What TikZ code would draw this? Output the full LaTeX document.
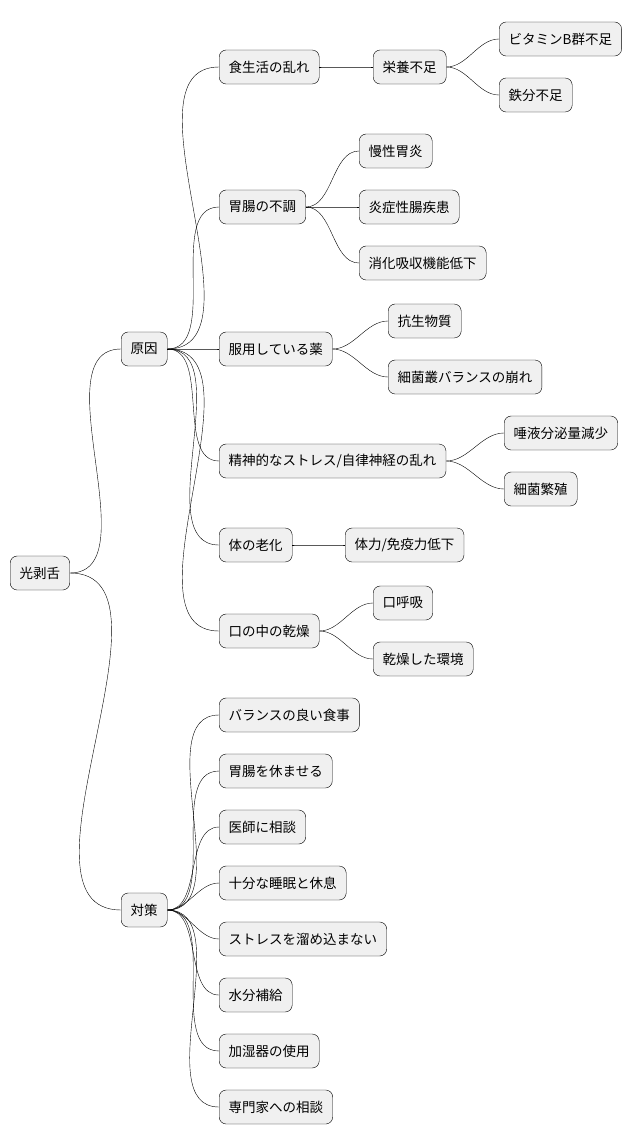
\documentclass[tikz,border=0pt]{standalone}
\usepackage{fontspec}
\newfontfamily\cjk{Noto Sans CJK JP}
\tikzset{
  topic/.style={draw=black,rounded corners=7pt,fill=black!6,minimum height=34pt,
    inner xsep=9.5pt,anchor=west,font=\cjk\fontsize{13.5}{16}\selectfont},
  branch/.style={draw=black,thin,out=0,in=180,looseness=0.9}
}
\begin{document}
\begin{tikzpicture}[x=1pt,y=-1pt]
                \useasboundingbox (0,0) rectangle (638,1146);
                \node[topic](root)at(10, 573){光剥舌};
                \node[topic](cause)at(121, 349){原因};
                \node[topic](fix)at(121, 910){対策};
                % causes
                \node[topic](diet)at(219, 67){食生活の乱れ};
                \node[topic](gut)at(219, 207){胃腸の不調};
                \node[topic](drug)at(219, 349){服用している薬};
                \node[topic](stress)at(219, 461){精神的なストレス/自律神経の乱れ};
                \node[topic](age)at(219, 545){体の老化};
                \node[topic](dry)at(219, 631){口の中の乾燥};
                \node[topic](nutri)at(373, 67){栄養不足};
                \node[topic](vitb)at(499, 39){ビタミンB群不足};
                \node[topic](iron)at(499, 95){鉄分不足};
                \node[topic](gast)at(359, 151){慢性胃炎};
                \node[topic](ibd)at(359, 207){炎症性腸疾患};
                \node[topic](absorb)at(359, 263){消化吸収機能低下};
                \node[topic](anti)at(388, 321){抗生物質};
                \node[topic](flora)at(388, 377){細菌叢バランスの崩れ};
                \node[topic](saliva)at(504, 433){唾液分泌量減少};
                \node[topic](bact)at(504, 489){細菌繁殖};
                \node[topic](immune)at(345, 545){体力/免疫力低下};
                \node[topic](mouth)at(373, 603){口呼吸};
                \node[topic](air)at(373, 659){乾燥した環境};
                % remedies
                \node[topic](meal)at(219, 715){バランスの良い食事};
                \node[topic](rest)at(219, 771){胃腸を休ませる};
                \node[topic](doctor)at(219, 827){医師に相談};
                \node[topic](sleep)at(219, 883){十分な睡眠と休息};
                \node[topic](relax)at(219, 939){ストレスを溜め込まない};
                \node[topic](water)at(219, 995){水分補給};
                \node[topic](humid)at(219, 1051){加湿器の使用};
                \node[topic](expert)at(219, 1107){専門家への相談};
                \path[branch](root.east) edge (cause.west)
                (root.east) edge (fix.west)
                (cause.east) edge (diet.west)
                (cause.east) edge (gut.west)
                (cause.east) edge (drug.west)
                (cause.east) edge (stress.west)
                (cause.east) edge (age.west)
                (cause.east) edge (dry.west)
                (diet.east) edge (nutri.west)
                (nutri.east) edge (vitb.west)
                (nutri.east) edge (iron.west)
                (gut.east) edge (gast.west)
                (gut.east) edge (ibd.west)
                (gut.east) edge (absorb.west)
                (drug.east) edge (anti.west)
                (drug.east) edge (flora.west)
                (stress.east) edge (saliva.west)
                (stress.east) edge (bact.west)
                (age.east) edge (immune.west)
                (dry.east) edge (mouth.west)
                (dry.east) edge (air.west)
                (fix.east) edge (meal.west)
                (fix.east) edge (rest.west)
                (fix.east) edge (doctor.west)
                (fix.east) edge (sleep.west)
                (fix.east) edge (relax.west)
                (fix.east) edge (water.west)
                (fix.east) edge (humid.west)
                (fix.east) edge (expert.west);
\end{tikzpicture}
\end{document}
